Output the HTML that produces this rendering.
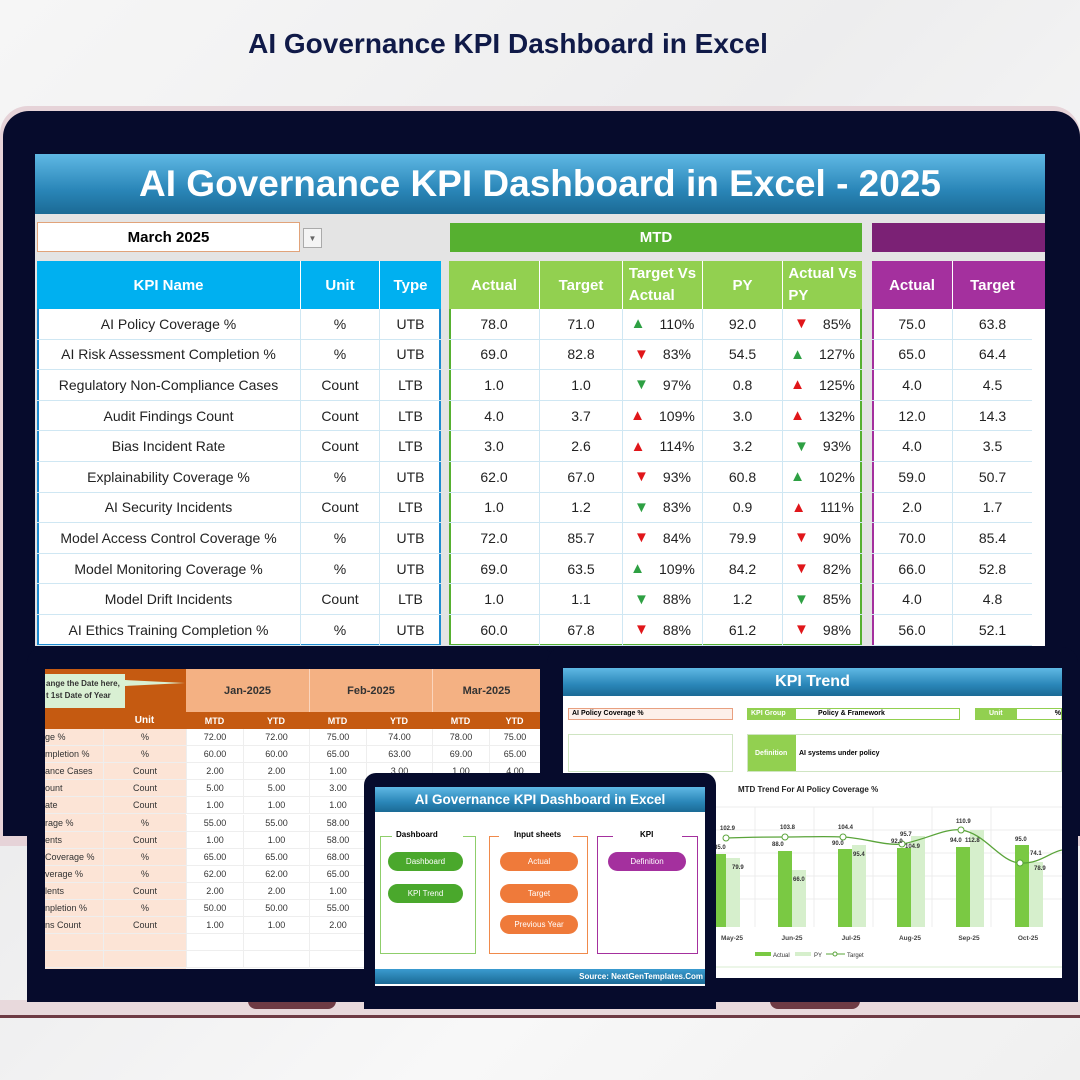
<!DOCTYPE html>
<html><head><meta charset="utf-8"><style>
*{margin:0;padding:0;box-sizing:border-box}
body{width:1080px;height:1080px;overflow:hidden;position:relative;background:linear-gradient(135deg,#f6f6f6,#ededee 40%,#f8f8f8 70%,#f0f0f0);font-family:"Liberation Sans",sans-serif}
.a{position:absolute}
.c{display:flex;align-items:center;justify-content:center;text-align:center}
.hb{background:linear-gradient(#5fb8e4,#2a86b8 60%,#1b6a95);color:#fff;font-weight:bold}
.row{position:absolute;left:37px;width:1008px;height:30.6px;font-size:14px;color:#222}
.row div{position:absolute;top:0;height:100%;display:flex;align-items:center;justify-content:center;border-bottom:1px solid #cfe7f3}
.g{color:#2ea043}.r{color:#e0161a}
.sr div{position:absolute;top:0;height:17px;display:flex;align-items:center;justify-content:center;font-size:9px;color:#333;border-bottom:1px solid #eee}
</style></head><body>
<div class="a" style="left:0;top:28px;width:1016px;text-align:center;font-size:28px;font-weight:bold;color:#101a48">AI Governance KPI Dashboard in Excel</div>
<div class="a" style="left:0;top:106px;width:1080px;height:740px;background:#e6d3d8;border-radius:28px 28px 0 0"></div>
<div class="a" style="left:3px;top:111px;width:1077px;height:725px;background:#060b2c;border-radius:26px 26px 0 0"></div>
<div class="a" style="left:35px;top:154px;width:1010px;height:492px;background:#e4e4e4"></div>
<div class="a c hb" style="left:35px;top:154px;width:1010px;height:60px;font-size:37px">AI Governance KPI Dashboard in Excel - 2025</div>
<div class="a c" style="left:37px;top:222px;width:263px;height:30px;background:#fff;border:1px solid #e1a37a;font-weight:bold;font-size:15px">March 2025</div>
<div class="a c" style="left:303px;top:228px;width:19px;height:20px;background:#f4f4f4;border:1px solid #aaa;font-size:8px;color:#666">▼</div>
<div class="a c" style="left:450px;top:223px;width:412px;height:29px;background:#56b030;color:#fff;font-weight:bold;font-size:15px">MTD</div>
<div class="a" style="left:872px;top:223px;width:173px;height:29px;background:#7b2175"></div>
<div class="a" style="left:37px;top:261px;width:404px;height:385px;background:#fff;border:2px solid #1e8bd0;border-top:none"></div>
<div class="a" style="left:449px;top:261px;width:413px;height:385px;background:#fff;border:2px solid #56b030;border-top:none"></div>
<div class="a" style="left:872px;top:261px;width:173px;height:385px;background:#fff;border-left:2px solid #a4309e"></div>
<div class="a" style="left:37px;top:261px;width:404px;height:48px;background:#00b0f0"></div>
<div class="a" style="left:449px;top:261px;width:413px;height:48px;background:#92d050"></div>
<div class="a" style="left:872px;top:261px;width:173px;height:48px;background:#a4309e"></div>
<div class="row" style="top:261px;height:48px;color:#fff;font-weight:bold;font-size:15px">
<div style="left:0;width:263px;border:none">KPI Name</div><div style="left:263px;width:79px;border-left:1px solid #fff;border-bottom:none">Unit</div><div style="left:342px;width:62px;border-left:1px solid #fff;border-bottom:none">Type</div>
<div style="left:412px;width:90px;border:none">Actual</div><div style="left:502px;width:83px;border-left:1px solid #fff;border-bottom:none">Target</div><div style="left:585px;width:80px;border-left:1px solid #fff;border-bottom:none;line-height:1.5">Target Vs<br>Actual</div><div style="left:665px;width:80px;border-left:1px solid #fff;border-bottom:none">PY</div><div style="left:745px;width:80px;border-left:1px solid #fff;border-bottom:none;line-height:1.5">Actual Vs<br>PY</div>
<div style="left:835px;width:80px;border:none">Actual</div><div style="left:915px;width:80px;border-left:1px solid #fff;border-bottom:none">Target</div></div>
<div id="rows"></div>
<script>
var d=[["AI Policy Coverage %","%","UTB","78.0","71.0","g▲110%","92.0","r▼85%","75.0","63.8"],
["AI Risk Assessment Completion %","%","UTB","69.0","82.8","r▼83%","54.5","g▲127%","65.0","64.4"],
["Regulatory Non-Compliance Cases","Count","LTB","1.0","1.0","g▼97%","0.8","r▲125%","4.0","4.5"],
["Audit Findings Count","Count","LTB","4.0","3.7","r▲109%","3.0","r▲132%","12.0","14.3"],
["Bias Incident Rate","Count","LTB","3.0","2.6","r▲114%","3.2","g▼93%","4.0","3.5"],
["Explainability Coverage %","%","UTB","62.0","67.0","r▼93%","60.8","g▲102%","59.0","50.7"],
["AI Security Incidents","Count","LTB","1.0","1.2","g▼83%","0.9","r▲111%","2.0","1.7"],
["Model Access Control Coverage %","%","UTB","72.0","85.7","r▼84%","79.9","r▼90%","70.0","85.4"],
["Model Monitoring Coverage %","%","UTB","69.0","63.5","g▲109%","84.2","r▼82%","66.0","52.8"],
["Model Drift Incidents","Count","LTB","1.0","1.1","g▼88%","1.2","g▼85%","4.0","4.8"],
["AI Ethics Training Completion %","%","UTB","60.0","67.8","r▼88%","61.2","r▼98%","56.0","52.1"]];
var L=[[0,263],[263,79],[342,62],[412,90],[502,83],[585,80],[665,80],[745,80],[835,80],[915,80]];
var h="";
function ar(s){return '<span class="'+s[0]+'" style="font-size:15px;margin-right:14px">'+s[1]+'</span>'+s.slice(2);}
d.forEach(function(r,i){h+='<div class="row" style="top:'+(309+i*30.6)+'px">';
r.forEach(function(v,j){h+='<div style="left:'+L[j][0]+'px;width:'+L[j][1]+'px'+(j>0&&j!=3&&j!=8?';border-left:1px solid #cfe7f3':'')+'">'+((j==5||j==7)?ar(v):v)+'</div>';});h+='</div>';});
document.getElementById("rows").innerHTML=h;
</script>
<div class="a" style="left:0;top:836px;width:1080px;height:8px;background:#e6d3d8"></div>
<div class="a" style="left:0;top:1000px;width:1080px;height:18px;background:#e8d9dc;border-bottom:3px solid #6e3b44"></div>
<div class="a" style="left:248px;top:1000px;width:88px;height:9px;background:#6e3b44;border-radius:0 0 8px 8px"></div>
<div class="a" style="left:770px;top:1000px;width:90px;height:9px;background:#6e3b44;border-radius:0 0 8px 8px"></div>
<div class="a" style="left:27px;top:647px;width:527px;height:355px;background:#060b2c;border-radius:16px 16px 0 0"></div>
<div class="a" style="left:45px;top:669px;width:495px;height:300px;background:#fff"></div>
<div class="a" style="left:45px;top:669px;width:141px;height:300px;background:#fce4d6"></div>
<div class="a" style="left:45px;top:669px;width:141px;height:43px;background:#c55a11"></div>
<div class="a" style="left:45px;top:674px;width:80px;height:34px;background:#d9f0d3;font-size:8px;font-weight:bold;color:#333;padding:4px 1px;line-height:12px;white-space:nowrap;overflow:hidden">ange the Date here,<br>t 1st Date of Year</div>
<div class="a" style="left:125px;top:680px;width:0;height:0;border-top:3px solid transparent;border-bottom:3px solid transparent;border-left:60px solid #d9f0d3"></div>
<div class="a" style="left:186px;top:669px;width:354px;height:43px;background:#f4b183;display:flex;font-weight:bold;font-size:11px;color:#333">
<div class="c" style="width:123px">Jan-2025</div><div class="c" style="width:123px;border-left:1px solid #fbd5bd">Feb-2025</div><div class="c" style="width:108px;border-left:1px solid #fbd5bd">Mar-2025</div></div>
<div class="a" style="left:45px;top:712px;width:495px;height:17px;background:#c55a11"></div>
<div class="a sr" style="left:45px;top:712px;width:495px;color:#fff"><div style="left:58px;width:83px;color:#fff;font-weight:bold;font-size:10px;border:none">Unit</div>
<div style="left:141px;width:57px;color:#fff;font-weight:bold;border:none">MTD</div><div style="left:198px;width:66px;color:#fff;font-weight:bold;border:none">YTD</div><div style="left:264px;width:57px;color:#fff;font-weight:bold;border:none">MTD</div><div style="left:321px;width:66px;color:#fff;font-weight:bold;border:none">YTD</div><div style="left:387px;width:57px;color:#fff;font-weight:bold;border:none">MTD</div><div style="left:444px;width:51px;color:#fff;font-weight:bold;border:none">YTD</div></div>
<div id="sr"></div>
<script>
var s=[["ge %","%","72.00","72.00","75.00","74.00","78.00","75.00"],["mpletion %","%","60.00","60.00","65.00","63.00","69.00","65.00"],["ance Cases","Count","2.00","2.00","1.00","3.00","1.00","4.00"],["ount","Count","5.00","5.00","3.00","","",""],["ate","Count","1.00","1.00","1.00","","",""],["rage %","%","55.00","55.00","58.00","","",""],["ents","Count","1.00","1.00","58.00","","",""],["Coverage %","%","65.00","65.00","68.00","","",""],["verage %","%","62.00","62.00","65.00","","",""],["lents","Count","2.00","2.00","1.00","","",""],["npletion %","%","50.00","50.00","55.00","","",""],["ns Count","Count","1.00","1.00","2.00","","",""],["","","","","","","",""],["","","","","","","",""]];
var P=[[0,58],[58,83],[141,57],[198,66],[264,57],[321,66],[387,57],[444,51]],h2="";
s.forEach(function(r,i){h2+='<div class="a sr" style="left:45px;top:'+(729+i*17.1)+'px;width:495px">';r.forEach(function(v,j){h2+='<div style="left:'+P[j][0]+'px;width:'+P[j][1]+'px;'+(j==0?'justify-content:flex-start;':'')+(j>0?'border-left:1px solid #eee':'')+'">'+v+'</div>';});h2+='</div>';});
document.getElementById("sr").innerHTML=h2;
</script>
<div class="a" style="left:547px;top:647px;width:531px;height:355px;background:#060b2c;border-radius:16px 16px 0 0"></div>
<div class="a" style="left:563px;top:668px;width:499px;height:310px;background:#fff"></div>
<div class="a c hb" style="left:563px;top:668px;width:499px;height:28px;font-size:16px">KPI Trend</div>
<div class="a" style="left:568px;top:708px;width:165px;height:12px;background:#fdf0ea;border:1px solid #e8a080;font-size:7px;font-weight:bold;padding-left:3px;line-height:10px">AI Policy Coverage %</div>
<div class="a" style="left:747px;top:708px;width:213px;height:12px;border:1px solid #92d050;font-size:7px;font-weight:bold;line-height:10px"><span style="display:inline-block;width:48px;background:#92d050;color:#fff;padding-left:3px">KPI Group</span><span style="margin-left:22px">Policy &amp; Framework</span></div>
<div class="a" style="left:975px;top:708px;width:87px;height:12px;border:1px solid #92d050;font-size:7px;font-weight:bold;line-height:10px"><span style="display:inline-block;width:41px;background:#92d050;color:#fff;padding-left:13px">Unit</span><span style="float:right">%</span></div>
<div class="a" style="left:568px;top:734px;width:165px;height:38px;border:1px solid #cfe5c2"></div>
<div class="a" style="left:747px;top:734px;width:315px;height:38px;border:1px solid #cfe5c2;font-size:7px;font-weight:bold;display:flex;align-items:center"><span style="background:#92d050;color:#fff;height:100%;width:48px;display:flex;align-items:center;padding-left:7px">Definition</span><span style="margin-left:3px">AI systems under policy</span></div>
<div class="a" style="left:738px;top:785px;font-size:8px;font-weight:bold;color:#222">MTD Trend For AI Policy Coverage %</div>
<svg class="a" style="left:563px;top:775px" width="499" height="203" viewBox="563 775 499 203">
<g stroke="#ececec" stroke-width="1"><line x1="600" y1="807" x2="1062" y2="807"/><line x1="600" y1="830" x2="1062" y2="830"/><line x1="600" y1="853" x2="1062" y2="853"/><line x1="600" y1="876" x2="1062" y2="876"/><line x1="600" y1="899" x2="1062" y2="899"/><line x1="755" y1="807" x2="755" y2="927"/><line x1="814" y1="807" x2="814" y2="927"/><line x1="873" y1="807" x2="873" y2="927"/><line x1="932" y1="807" x2="932" y2="927"/><line x1="991" y1="807" x2="991" y2="927"/></g>
<g fill="#7ac943"><rect x="712" y="854" width="14" height="73"/><rect x="778" y="851" width="14" height="76"/><rect x="838" y="849" width="14" height="78"/><rect x="897" y="848" width="14" height="79"/><rect x="956" y="847" width="14" height="80"/><rect x="1015" y="845" width="14" height="82"/></g>
<g fill="#d6efcc"><rect x="726" y="858" width="14" height="69"/><rect x="792" y="870" width="14" height="57"/><rect x="852" y="845" width="14" height="82"/><rect x="911" y="836" width="14" height="91"/><rect x="970" y="830" width="14" height="97"/><rect x="1029" y="862" width="14" height="65"/></g>
<path d="M726,838 C750,837 770,837 785,837 C805,837 825,836 843,837 C865,838 885,846 902,844 C925,840 945,828 961,830 C985,833 1000,862 1020,863 C1040,864 1050,852 1062,850" fill="none" stroke="#5aa43a" stroke-width="1.3"/>
<g fill="#fff" stroke="#5aa43a" stroke-width="1"><circle cx="726" cy="838" r="3"/><circle cx="785" cy="837" r="3"/><circle cx="843" cy="837" r="3"/><circle cx="902" cy="844" r="3"/><circle cx="961" cy="830" r="3"/><circle cx="1020" cy="863" r="3"/></g>
<g font-size="6" font-weight="bold" fill="#333" font-family="Liberation Sans"><text x="720" y="830">102.9</text><text x="780" y="829">103.8</text><text x="838" y="829">104.4</text><text x="900" y="836">95.7</text><text x="956" y="823">110.9</text><text x="1015" y="841">95.0</text>
<text x="714" y="849">85.0</text><text x="772" y="846">88.0</text><text x="832" y="845">90.0</text><text x="891" y="843">92.0</text><text x="950" y="842">94.0</text><text x="965" y="842">112.8</text><text x="1030" y="855">74.1</text>
<text x="732" y="869">79.9</text><text x="793" y="881">66.0</text><text x="853" y="856">95.4</text><text x="905" y="848">104.9</text><text x="1034" y="870">78.9</text></g>
<g font-size="6.5" font-weight="bold" fill="#444" font-family="Liberation Sans" text-anchor="middle"><text x="732" y="940">May-25</text><text x="792" y="940">Jun-25</text><text x="851" y="940">Jul-25</text><text x="910" y="940">Aug-25</text><text x="969" y="940">Sep-25</text><text x="1028" y="940">Oct-25</text></g>
<rect x="755" y="952" width="16" height="4" fill="#7ac943"/><text x="773" y="957" font-size="6" font-family="Liberation Sans" fill="#333">Actual</text>
<rect x="795" y="952" width="16" height="4" fill="#d6efcc"/><text x="814" y="957" font-size="6" font-family="Liberation Sans" fill="#333">PY</text>
<line x1="826" y1="954" x2="845" y2="954" stroke="#5aa43a"/><circle cx="835" cy="954" r="2" fill="#fff" stroke="#5aa43a"/><text x="847" y="957" font-size="6" font-family="Liberation Sans" fill="#333">Target</text>
<line x1="600" y1="967" x2="1062" y2="967" stroke="#d8ecd0"/>
</svg>
<div class="a" style="left:364px;top:773px;width:352px;height:236px;background:#060b2c;border-radius:12px 12px 0 0"></div>
<div class="a" style="left:375px;top:787px;width:330px;height:199px;background:#fff"></div>
<div class="a c hb" style="left:375px;top:787px;width:330px;height:25px;font-size:13.5px">AI Governance KPI Dashboard in Excel</div>
<div class="a" style="left:380px;top:836px;width:96px;height:118px;border:1px solid #8fce6b;border-top:none"></div>
<div class="a" style="left:380px;top:836px;width:12px;border-top:1px solid #8fce6b"></div><div class="a" style="left:463px;top:836px;width:13px;border-top:1px solid #8fce6b"></div>
<div class="a" style="left:396px;top:830px;font-size:8px;font-weight:bold">Dashboard</div>
<div class="a" style="left:489px;top:836px;width:99px;height:118px;border:1px solid #f08a4b;border-top:none"></div>
<div class="a" style="left:489px;top:836px;width:10px;border-top:1px solid #f08a4b"></div><div class="a" style="left:573px;top:836px;width:15px;border-top:1px solid #f08a4b"></div>
<div class="a" style="left:514px;top:830px;font-size:8px;font-weight:bold">Input sheets</div>
<div class="a" style="left:597px;top:836px;width:101px;height:118px;border:1px solid #a4309e;border-top:none"></div>
<div class="a" style="left:597px;top:836px;width:16px;border-top:1px solid #a4309e"></div><div class="a" style="left:682px;top:836px;width:16px;border-top:1px solid #a4309e"></div>
<div class="a" style="left:640px;top:830px;font-size:8px;font-weight:bold">KPI</div>
<div class="a c" style="left:388px;top:852px;width:75px;height:19px;background:#4aa82c;color:#fff;font-size:8px;border-radius:10px">Dashboard</div>
<div class="a c" style="left:388px;top:884px;width:75px;height:19px;background:#4aa82c;color:#fff;font-size:8px;border-radius:10px">KPI Trend</div>
<div class="a c" style="left:500px;top:852px;width:78px;height:19px;background:#ef7a3a;color:#fff;font-size:8px;border-radius:10px">Actual</div>
<div class="a c" style="left:500px;top:884px;width:78px;height:19px;background:#ef7a3a;color:#fff;font-size:8px;border-radius:10px">Target</div>
<div class="a c" style="left:500px;top:915px;width:78px;height:19px;background:#ef7a3a;color:#fff;font-size:8px;border-radius:10px">Previous Year</div>
<div class="a c" style="left:608px;top:852px;width:78px;height:19px;background:#a4309e;color:#fff;font-size:8px;border-radius:10px">Definition</div>
<div class="a" style="left:375px;top:969px;width:330px;height:15px;background:linear-gradient(#3a9bd0,#1b6a95);color:#fff;font-size:8px;font-weight:bold;text-align:right;line-height:15px;padding-right:2px;white-space:nowrap;overflow:hidden">Source: NextGenTemplates.Com</div>
</body></html>
